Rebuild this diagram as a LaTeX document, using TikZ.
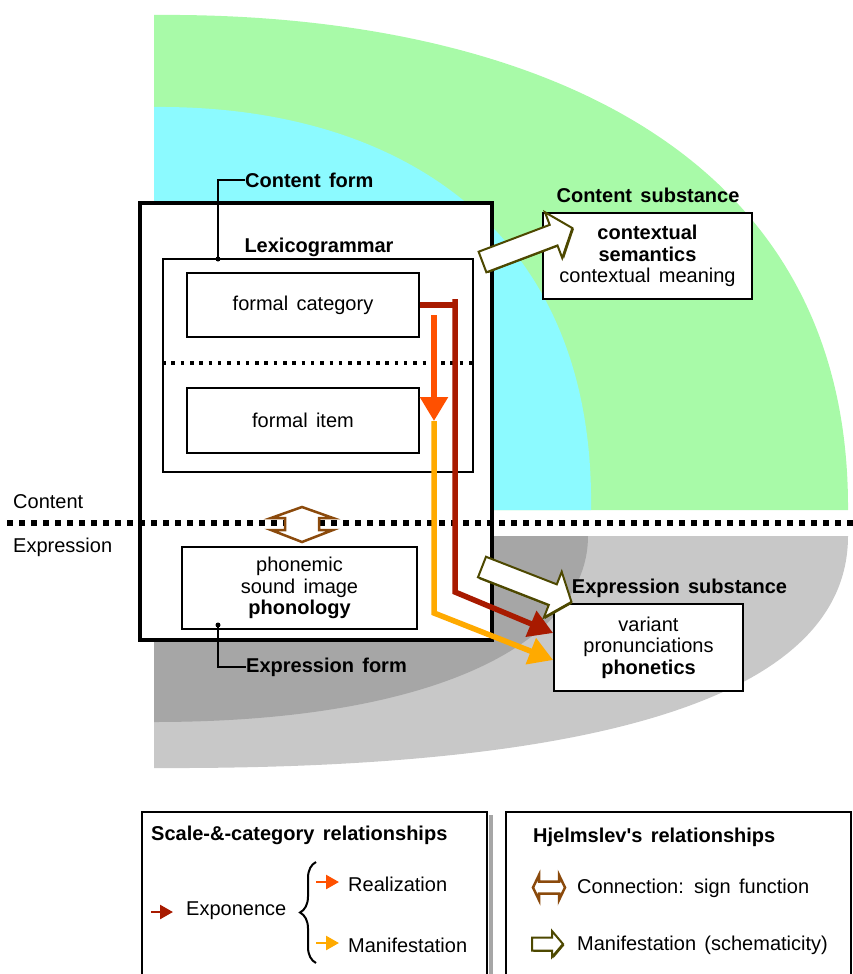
\documentclass[tikz,border=0pt]{standalone}
\usepackage{fontspec}
\setmainfont{Liberation Sans}[WordSpace=1.5]
\usetikzlibrary{arrows.meta,decorations.pathreplacing,calc}

\definecolor{cgreen}{HTML}{A8FAA8}
\definecolor{ccyan}{HTML}{8CFAFF}
\definecolor{glight}{HTML}{C8C8C8}
\definecolor{gdark}{HTML}{A6A6A6}
\definecolor{expred}{HTML}{A81A00}
\definecolor{realorange}{HTML}{FF5000}
\definecolor{manamber}{HTML}{FFAA00}
\definecolor{signbrown}{HTML}{8B4A0C}
\definecolor{schemolive}{HTML}{4D4800}

% outline of a hollow block arrow pointing along +x: length, head length, shaft half-width, head half-width
\newcommand\hollowpath[4]{(0,-#3) -- (#1-#2,-#3) -- (#1-#2,-#4) -- (#1,0) -- (#1-#2,#4) -- (#1-#2,#3) -- (0,#3) -- cycle}
% hollow block arrow with a thin shadow: tail point, angle, then the four sizes
\newcommand\hollowarrow[6]{%
  \begin{scope}[shift={(#1)},rotate=#2]
    \fill[schemolive,shift={(1.3,1.3)}] \hollowpath{#3}{#4}{#5}{#6};
    \draw[schemolive,line width=2,fill=white,line join=miter] \hollowpath{#3}{#4}{#5}{#6};
  \end{scope}}

\begin{document}
\begin{tikzpicture}[x=1pt,y=-1pt,
  every node/.style={font=\fontsize{20}{21.5}\selectfont,inner sep=0pt,align=center},
  lbl/.style={font=\fontsize{20}{21.5}\selectfont\bfseries},
  box/.style={draw=black,line width=1.8,fill=white},
  divider/.style={line width=5.5,dash pattern=on 6 off 6},
  innerdiv/.style={line width=3.5,dash pattern=on 3.5 off 5.8},
  expline/.style={draw=expred,line width=5.5},
  realline/.style={draw=realorange,line width=5.5},
  manline/.style={draw=manamber,line width=5.5},
  bigtip/.style={-{Triangle[length=24pt,width=27pt]}},
  smalltip/.style={-{Triangle[length=13pt,width=14pt]}},
  leader/.style={line width=1.5},
  signarrow/.style={draw=signbrown,line width=2.5,fill=white,line join=miter},
  frame/.style={line width=2}
]
\useasboundingbox (0,0) rectangle (853,974);

% substance strata
\fill[cgreen] (154,15) .. controls (480,12) and (850,120) .. (848,510) -- (154,510) -- cycle;
\fill[ccyan] (154,107) .. controls (400,105) and (595,230) .. (591,510) -- (154,510) -- cycle;
\fill[glight] (154,536) -- (848,536) .. controls (848,690) and (620,770) .. (154,768) -- cycle;
\fill[gdark] (154,536) -- (588,536) .. controls (588,640) and (440,722) .. (154,722) -- cycle;

% form: the sign
\node[draw=black,line width=3.5,fill=white,minimum width=352,minimum height=437] (main) at (316,421.5) {};
\node[box,minimum width=310,minimum height=213] (lexi) at (318,365.5) {};
\node[lbl] (lexlabel) at (319,247) {Lexicogrammar};
\node[box,minimum width=232,minimum height=64] (fcat) at (303,305) {formal category};
\node[box,minimum width=232,minimum height=65] (fitem) at (303,420.5) {formal item};
\draw[innerdiv] (lexi.west |- 0,363) -- (lexi.east |- 0,363);
\node[box,minimum width=235,minimum height=82] (phon) at (299.5,588) {phonemic\\sound image\\\textbf{phonology}};

% content / expression planes
\draw[divider] (7,523) -- (853,523);
\node[anchor=west] (content) at (13,502) {Content};
\node[anchor=west] (expression) at (13,547) {Expression};

% sign function
\draw[signarrow] (302,507) -- (333,518) -- (319,518) -- (319,530) -- (333,530) -- (302,542)
  -- (271,530) -- (285,530) -- (285,518) -- (271,518) -- cycle;

% form labels with leaders
\node[lbl,anchor=west] (cform) at (245,180) {Content form};
\node[lbl,anchor=west] (eform) at (246,667) {Expression form};
\coordinate (cdot) at (218,259);
\coordinate (edot) at (218,625);
\fill (cdot) circle (2.5);
\fill (edot) circle (2.5);
\draw[leader] (cdot) |- (cform.west);
\draw[leader] (edot) |- (eform.west);

% substance boxes
\node[lbl] (csublabel) at (648,195) {Content substance};
\node[box,minimum width=209,minimum height=86] (csub) at (647.5,256)
  {\textbf{contextual}\\\textbf{semantics}\\contextual meaning};
\node[lbl] (esublabel) at (679.5,588) {Expression substance};
\node[box,minimum width=189,minimum height=87] (esub) at (648.5,647.5)
  {variant\\pronunciations\\\textbf{phonetics}};

% exponence, realization, manifestation
\coordinate (rtop) at (455,299);
\coordinate (rbend) at (455,592);
\coordinate (otop) at (434,315);
\coordinate (omid) at (434,421);
\coordinate (obend) at (434,613);
\draw[expline] (fcat.east) -- (rtop |- fcat.east) -- ++(2.75,0);
\draw[expline,bigtip] (rtop) -- (rbend) -- ($(esub.west)+(0,-14.5)$);
\draw[manline,bigtip] (omid) -- (obend) -- ($(esub.west)+(0,12.5)$);
\draw[realline,bigtip] (otop) -- (omid);

% manifestation (schematicity)
\coordinate (hupper) at (482.5,262);
\coordinate (hlower) at (482,567);
\hollowarrow{hupper}{20.7}{96}{20}{11}{24.5}
\hollowarrow{hlower}{-21.3}{96}{20}{11}{24.5}

% key: scale-&-category relationships
\draw[frame] (142,976) -- (142,812) -- (487,812) -- (487,976);
\fill[gray!70] (488.5,815) rectangle (492.5,976);
\node[lbl,anchor=west] (keyl) at (151,835) {Scale-\&-category relationships};
\coordinate (kexp) at (151,912);
\draw[draw=expred,line width=2.5,smalltip] (kexp) -- ++(22,0);
\node[anchor=west] (kexptext) at (186,911) {Exponence};
\draw[line width=2,decorate,decoration={brace,amplitude=16pt}] (316,963) -- (316,862);
\coordinate (kreal) at (316,882);
\coordinate (kman) at (316,943);
\draw[draw=realorange,line width=2.5,smalltip] (kreal) -- ++(23,0);
\draw[draw=manamber,line width=2.5,smalltip] (kman) -- ++(23,0);
\node[anchor=west] (krealtext) at (348,884) {Realization};
\node[anchor=west] (kmantext) at (348,945) {Manifestation};

% key: Hjelmslev's relationships
\draw[frame] (506,976) -- (506,812) -- (851,812) -- (851,976);
\node[lbl,anchor=west] (keyr) at (533,837) {Hjelmslev\textquotesingle s relationships};
\begin{scope}[shift={(549,887.5)}]
  \draw[signarrow] (-16,0) -- (-10,-12.5) -- (-10,-6) -- (10,-6) -- (10,-12.5) -- (16,0)
    -- (10,12.5) -- (10,6) -- (-10,6) -- (-10,12.5) -- cycle;
\end{scope}
\node[anchor=west] (kconn) at (577,888) {Connection: sign function};
\coordinate (kschem) at (532,944);
\hollowarrow{kschem}{0}{31}{11}{6.5}{13}
\node[anchor=west] (kschemtext) at (577,945) {Manifestation (schematicity)};
\end{tikzpicture}
\end{document}
